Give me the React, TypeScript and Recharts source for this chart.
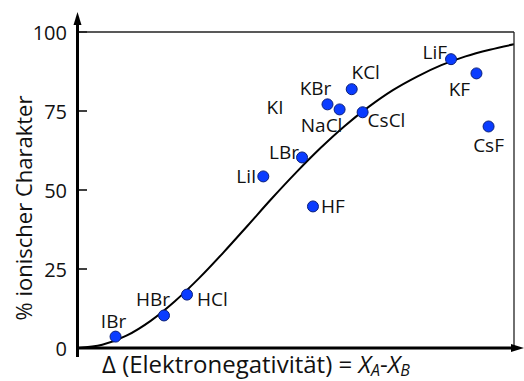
import { ComposedChart, Line, Scatter, XAxis, YAxis } from "recharts";

// compounds and their measured points
const compounds = ["IBr", "HBr", "HCl", "LiI", "LBr", "HF", "KI", "KBr", "NaCl", "KCl", "CsCl", "LiF", "KF", "CsF"];
const deltaEN = [0.31, 0.71, 0.9, 1.53, 1.85, 1.94, 2.06, 2.06, 2.16, 2.26, 2.35, 3.08, 3.29, 3.39];
const ionicPct = [3.6, 10.3, 16.9, 54.3, 60.3, 44.8, 77.1, 77.1, 75.5, 81.9, 74.6, 91.4, 86.9, 70.1];

// the drawn curve
const curveX = [0, 0.2, 0.4, 0.6, 0.8, 1.0, 1.2, 1.4, 1.6, 1.8, 2.0, 2.2, 2.4, 2.6, 2.8, 3.0, 3.2, 3.4, 3.6];
const curveY = [0, 1.0, 3.9, 8.6, 14.8, 22.1, 30.2, 38.7, 47.3, 55.5, 63.2, 70.2, 76.3, 81.6, 85.9, 89.5, 92.3, 94.4, 96.1];

const yTicks = [0, 25, 50, 75, 100];

const points = compounds.map((name, i) => ({ name, x: deltaEN[i], y: ionicPct[i] }));
const curve = curveX.map((x, i) => ({ x, y: curveY[i] }));

// label placement next to each dot
const labelPos: Record<string, { a: "start" | "middle" | "end"; dx: number; dy: number; hideDot?: boolean }> = {
  IBr: { a: "middle", dx: -2, dy: -16 },
  HBr: { a: "middle", dx: -11, dy: -16 },
  HCl: { a: "start", dx: 10, dy: 4 },
  LiI: { a: "end", dx: -7, dy: 0 },
  LBr: { a: "end", dx: -3, dy: -5 },
  HF: { a: "start", dx: 8, dy: 0 },
  KI: { a: "end", dx: -44, dy: 3, hideDot: true },
  KBr: { a: "middle", dx: -12, dy: -16 },
  NaCl: { a: "middle", dx: -18, dy: 16 },
  KCl: { a: "middle", dx: 14, dy: -17 },
  CsCl: { a: "start", dx: 5, dy: 8 },
  LiF: { a: "end", dx: -4, dy: -7 },
  KF: { a: "middle", dx: -17, dy: 16 },
  CsF: { a: "middle", dx: 0, dy: 19 },
};

const FONT = "'Open Sans', sans-serif";
const W = 524;
const H = 381;
const LEFT = 78;
const RIGHT = 514;
const TOP = 32;
const BOTTOM = 348;

function Dot(props: any) {
  const { cx, cy, payload } = props;
  const p = labelPos[payload.name];
  return (
    <g>
      {!p.hideDot && <circle cx={cx} cy={cy} r={5.5} fill="#0a3cff" stroke="#0a1f7a" strokeWidth={1} />}
      <text
        x={cx + p.dx}
        y={cy + p.dy}
        textAnchor={p.a}
        dominantBaseline="central"
        fontSize={19}
        fontFamily={FONT}
        fill="#111"
      >
        {payload.name}
      </text>
    </g>
  );
}

function YTick(props: any) {
  const { y, payload } = props;
  return (
    <g>
      <line x1={LEFT} y1={y} x2={LEFT + 9} y2={y} stroke="#000" strokeWidth={1.5} />
      <text x={67} y={y} textAnchor="end" dominantBaseline="central" fontSize={20} fontFamily={FONT} fill="#111">
        {payload.value}
      </text>
    </g>
  );
}

function XTitle(props: any) {
  const vb = props.viewBox;
  return (
    <text x={vb.x + 24} y={373} fontSize={24} fontFamily={FONT} fill="#111">
      Δ (Elektronegativität) ={" "}
      <tspan fontStyle="italic">X</tspan>
      <tspan fontStyle="italic" fontSize={16} dy={3}>A</tspan>
      <tspan dy={-3}>-</tspan>
      <tspan fontStyle="italic">X</tspan>
      <tspan fontStyle="italic" fontSize={16} dy={3}>B</tspan>
    </text>
  );
}

function YTitle() {
  return (
    <text
      x={32}
      y={208}
      transform="rotate(-90 32 208)"
      textAnchor="middle"
      fontSize={22}
      fontFamily={FONT}
      fill="#111"
    >
      % ionischer Charakter
    </text>
  );
}

export default function App() {
  return (
    <div style={{ position: "absolute", left: 0, top: 0, width: W, height: H, background: "#fff" }}>
      <ComposedChart width={W} height={H} margin={{ top: TOP, right: W - RIGHT, bottom: 0, left: 0 }}>
        <XAxis
          type="number"
          dataKey="x"
          domain={[0, 3.6]}
          allowDataOverflow
          height={H - BOTTOM}
          tick={false}
          tickLine={false}
          axisLine={false}
          label={<XTitle />}
        />
        <YAxis
          type="number"
          dataKey="y"
          domain={[0, 100]}
          ticks={yTicks}
          width={LEFT}
          tickLine={false}
          axisLine={false}
          tick={<YTick />}
          label={<YTitle />}
        />
        <Scatter data={points} dataKey="y" shape={<Dot />} isAnimationActive={false} />
        <Line
          data={curve}
          dataKey="y"
          type="monotone"
          stroke="#000"
          strokeWidth={2}
          dot={false}
          activeDot={false}
          isAnimationActive={false}
        />
      </ComposedChart>
      <svg width={W} height={H} style={{ position: "absolute", left: 0, top: 0, pointerEvents: "none" }}>
        <line x1={LEFT} y1={TOP} x2={RIGHT} y2={TOP} stroke="#222" strokeWidth={1.3} />
        <line x1={RIGHT} y1={TOP} x2={RIGHT} y2={BOTTOM} stroke="#222" strokeWidth={1.3} />
        <line x1={LEFT - 0.5} y1={24} x2={LEFT - 0.5} y2={357} stroke="#000" strokeWidth={3} />
        <polygon points={`${LEFT - 0.5},12 ${LEFT - 4.5},25 ${LEFT + 3.5},25`} fill="#000" />
        <line x1={LEFT - 2} y1={BOTTOM} x2={513} y2={BOTTOM} stroke="#000" strokeWidth={3} />
        <polygon points={`524,${BOTTOM} 511,${BOTTOM - 4} 511,${BOTTOM + 4}`} fill="#000" />
      </svg>
    </div>
  );
}
